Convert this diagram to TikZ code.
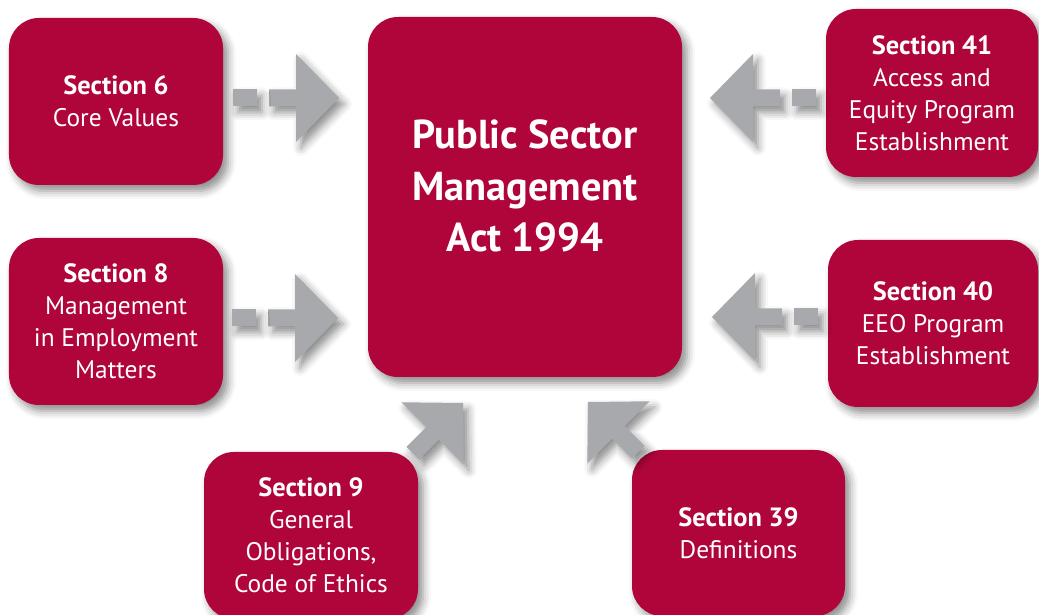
\documentclass[tikz,border=0pt]{standalone}
\usepackage{fontspec}
\setmainfont{PT Sans}
\usetikzlibrary{shadows.blur}
\definecolor{crimson}{HTML}{B0053A}
\definecolor{arrowgrey}{HTML}{A7A9AC}
\newcommand{\sectitle}[1]{{\bfseries\fontsize{26.5}{32}\selectfont #1}}
\tikzset{
  softshadow/.style={blur shadow={shadow xshift=5bp, shadow yshift=-6bp,
      shadow blur radius=8bp, shadow opacity=45}},
  sectionbox/.style={fill=crimson, rounded corners=30bp, minimum width=214bp,
      minimum height=167bp, text=white, align=center, inner sep=0pt,
      font=\fontsize{25.5}{32}\selectfont, softshadow},
  actbox/.style={sectionbox, minimum width=314bp, minimum height=360bp},
  acttext/.style={text=white, align=center, inner sep=0pt,
      font=\bfseries\fontsize{40.5}{52}\selectfont},
  % block arrow with a detached dash behind its shaft; tip at the origin
  dasharrow/.pic={
    \fill[arrowgrey, softshadow] (0,0) -- (-43,44) -- (-43,8.5) -- (-70,8.5)
      -- (-70,-8.5) -- (-43,-8.5) -- (-43,-44) -- cycle;
    \fill[arrowgrey, softshadow] (-82,8.5) rectangle (-106,-8.5);
  },
  % block arrow with a short shaft only
  shortarrow/.pic={
    \fill[arrowgrey, softshadow] (0,0) -- (-43,44) -- (-43,9) -- (-71,9)
      -- (-71,-9) -- (-43,-9) -- (-43,-44) -- cycle;
  }
}
\begin{document}
\begin{tikzpicture}[x=1bp, y=1bp]
  \useasboundingbox (0,0) rectangle (1039,615);
  \clip (0,0) rectangle (1039,615);

  % central act
  \node[actbox] (act) at (525,418) {};
  \node[acttext] (acttitle) at (525,429) {Public Sector\\Management\\Act 1994};

  % sections
  \node[sectionbox] (s6)  at (116,513.5) {\sectitle{Section 6}\\Core Values};
  \node[sectionbox] (s8)  at (116,293.5) {\sectitle{Section 8}\\Management\\in Employment\\Matters};
  \node[sectionbox, minimum width=212bp, minimum height=168bp] (s41) at (932,522)
    {\sectitle{Section 41}\\Access and\\Equity Program\\Establishment};
  \node[sectionbox, minimum width=210bp] (s40) at (933,291.5)
    {\sectitle{Section 40}\\EEO Program\\Establishment};
  \node[sectionbox] (s9)  at (311,79.5)
    {\sectitle{Section 9}\\General\\Obligations,\\Code of Ethics};
  \node[sectionbox, minimum width=213bp, minimum height=166bp] (s39) at (738.5,82)
    {\sectitle{Section 39}\\Definitions};

  % arrows towards the act
  \pic at (339,517) {dasharrow};
  \pic at (338,297) {dasharrow};
  \pic[rotate=180] at (710,517) {dasharrow};
  \pic[rotate=180] at (712,298) {dasharrow};
  \pic[rotate=45] at (463,212) {shortarrow};
  \pic[rotate=135] at (588,213) {shortarrow};
\end{tikzpicture}
\end{document}
